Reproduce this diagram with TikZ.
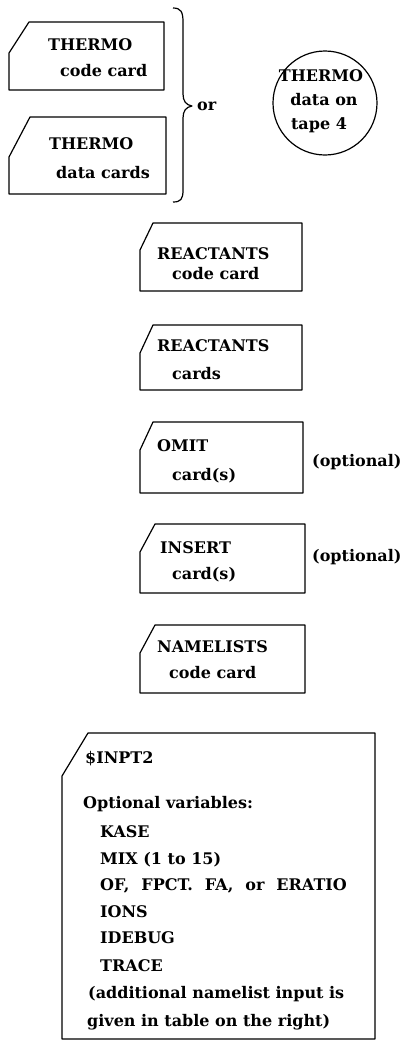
\documentclass[tikz,border=0pt]{standalone}
\usepackage{fontspec}
\setmainfont{DejaVu Serif}
\newfontfamily\cardfont{DejaVu Serif}
\newcommand\cardshape[6]{% left top right bottom cutx cuty
  \draw[cardline] (#1,#6) -- (#5,#2) -- (#3,#2) -- (#3,#4) -- (#1,#4) -- cycle;}
\newcommand\wsp{\hspace{12bp}}
\begin{document}
\begin{tikzpicture}[x=1bp,y=-1bp,
  cardline/.style={line width=1.2bp, line join=round},
  txt/.style={inner sep=0pt, anchor=base west, font=\cardfont\fontsize{16bp}{20bp}\selectfont\bfseries},
  ctxt/.style={txt, anchor=base}]
\useasboundingbox (0,0) rectangle (403,1040);
% cards
\cardshape{9}{22}{164}{90}{29}{53}
\cardshape{9}{117}{166}{194}{30}{157}
\cardshape{140}{223}{302}{291}{153}{250}
\cardshape{140}{325}{302}{390}{153}{353}
\cardshape{140}{422}{303}{493}{153}{450}
\cardshape{140}{524}{305}{593}{155}{552}
\cardshape{140}{625}{305}{693}{155}{653}
\draw[cardline] (62,776) -- (88,733) -- (375,733) -- (375,1039) -- (62,1039) -- cycle;
% brace
\draw[cardline] (173,8) .. controls (181,8) and (183,12) .. (183,22)
  -- (183,94) .. controls (183,101) and (186,105) .. (192,106)
  .. controls (186,107) and (183,111) .. (183,118)
  -- (183,190) .. controls (183,199) and (181,202) .. (173,202);
\node[txt] (or) at (197,110) {or};
% circle
\node[circle, draw, line width=1.2bp, minimum size=104bp, inner sep=0pt] (tape) at (325,103) {};
\node[ctxt] (t1) at (321,81) {THERMO};
\node[ctxt] (t2) at (324,105) {data on};
\node[ctxt] (t3) at (319,129) {tape 4};
% card texts
\node[txt] (a1) at (48,50) {THERMO};
\node[txt] (a2) at (60,76) {code card};
\node[txt] (b1) at (49,149.5) {THERMO};
\node[txt] (b2) at (56,178) {data cards};
\node[txt] (c1) at (157,259) {REACTANTS};
\node[txt] (c2) at (172,279) {code card};
\node[txt] (d1) at (157,351) {REACTANTS};
\node[txt] (d2) at (172,379) {cards};
\node[txt] (e1) at (157,451) {OMIT};
\node[txt] (e2) at (172,480) {card(s)};
\node[txt] (e3) at (312,466) {(optional)};
\node[txt] (f1) at (160,553) {INSERT};
\node[txt] (f2) at (172,579) {card(s)};
\node[txt] (f3) at (312,561) {(optional)};
\node[txt] (g1) at (157,652) {NAMELISTS};
\node[txt] (g2) at (169,678) {code card};
% big card
\node[txt] (h1) at (85,763) {\$INPT2};
\node[txt] (h2) at (83,808) {Optional variables:};
\node[txt] (h3) at (100,837) {KASE};
\node[txt] (h4) at (100,864) {MIX (1 to 15)};
\node[txt] (h5) at (100,890) {OF,\wsp FPCT.\wsp FA,\wsp or\wsp ERATIO};
\node[txt] (h6) at (100,917) {IONS};
\node[txt] (h7) at (100,943) {IDEBUG};
\node[txt] (h8) at (100,971) {TRACE};
\node[txt] (h9) at (88,998) {(additional namelist input is};
\node[txt] (h10) at (87,1026) {given in table on the right)};
\end{tikzpicture}
\end{document}
